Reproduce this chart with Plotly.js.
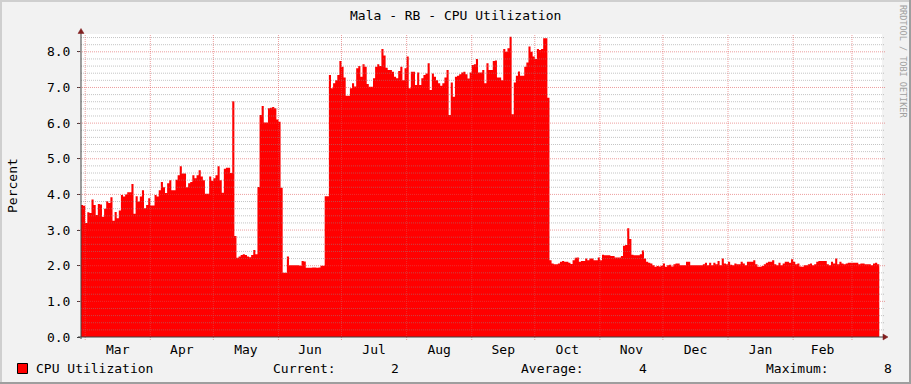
<!DOCTYPE html>
<html>
<head>
<meta charset="utf-8">
<script src="https://cdn.plot.ly/plotly-3.0.1.min.js"></script>
<style>
html,body{margin:0;padding:0;background:#f2f2f2;}
#chart{width:911px;height:384px;}
</style>
</head>
<body>
<div id="chart"></div>
<script>
// ---- data: daily CPU utilization (%) ----
var startDate = '2010-02-27';
var feb10 = [3.70, 3.68];
var mar10 = [3.20, 3.50, 3.48, 3.86, 3.70, 3.42, 3.73, 3.72, 3.37, 3.60, 3.81, 3.76, 3.92, 3.26, 3.51, 3.33, 3.55, 3.98, 3.94, 4.00, 4.06, 4.06, 4.29, 3.46, 3.95, 3.80, 3.94, 4.12, 3.61, 3.70, 3.89];
var apr10 = [3.69, 3.69, 3.98, 3.94, 4.12, 4.35, 4.20, 4.04, 4.31, 4.40, 4.12, 4.12, 4.41, 4.54, 4.79, 4.59, 4.59, 4.20, 4.31, 4.35, 4.54, 4.45, 4.54, 4.68, 4.50, 4.40, 4.02, 4.02, 4.50, 4.38];
var may10 = [4.45, 4.54, 4.79, 4.40, 4.05, 4.72, 4.75, 4.75, 4.60, 6.61, 2.83, 2.22, 2.26, 2.30, 2.32, 2.30, 2.26, 2.24, 2.30, 2.44, 2.32, 4.21, 6.23, 6.48, 6.02, 6.02, 6.42, 6.43, 6.45, 6.42, 6.10];
var jun10 = [6.04, 4.19, 1.80, 1.80, 2.26, 2.01, 2.01, 2.01, 2.01, 2.01, 2.00, 2.13, 2.12, 1.94, 1.94, 1.94, 1.95, 1.95, 1.94, 1.95, 2.00, 2.00, 3.95, 3.95, 7.35, 6.98, 7.12, 7.20, 7.35, 7.74];
var jul10 = [7.58, 7.28, 6.77, 6.77, 6.98, 7.12, 7.03, 7.54, 7.60, 7.30, 7.65, 7.58, 7.10, 7.02, 7.02, 7.26, 7.58, 7.65, 7.60, 8.08, 7.90, 7.55, 7.49, 7.49, 7.44, 7.30, 7.26, 7.46, 7.58, 7.20, 7.54];
var aug10 = [7.87, 6.98, 7.44, 7.44, 7.07, 7.42, 7.07, 7.26, 7.35, 7.39, 7.68, 6.93, 7.39, 7.30, 7.20, 7.12, 7.05, 7.12, 7.28, 7.49, 6.23, 7.14, 6.74, 7.30, 7.33, 7.37, 7.42, 7.44, 7.37, 7.25, 7.42];
var sep10 = [7.63, 7.65, 7.80, 7.42, 7.42, 7.49, 7.12, 7.68, 7.49, 7.49, 7.74, 7.76, 7.28, 7.28, 7.20, 8.08, 8.00, 8.10, 8.42, 6.25, 7.14, 7.33, 7.45, 7.33, 7.33, 7.58, 7.70, 8.15, 8.00, 7.87];
var oct10 = [7.80, 8.08, 8.05, 8.08, 8.38, 8.38, 6.71, 2.15, 2.06, 2.04, 2.04, 2.06, 2.11, 2.13, 2.11, 2.11, 2.08, 2.05, 2.15, 2.22, 2.23, 2.11, 2.13, 2.13, 2.20, 2.15, 2.20, 2.20, 2.15, 2.15, 2.23];
var nov10 = [2.15, 2.31, 2.29, 2.29, 2.29, 2.27, 2.27, 2.23, 2.23, 2.23, 2.27, 2.56, 2.58, 3.05, 2.75, 2.31, 2.29, 2.29, 2.29, 2.32, 2.43, 2.20, 2.11, 2.08, 2.06, 2.01, 1.97, 1.99, 1.98, 2.00];
var dec10 = [2.06, 1.97, 2.01, 2.03, 1.98, 2.04, 2.06, 2.06, 2.01, 2.01, 2.01, 2.11, 2.11, 2.01, 2.01, 2.01, 2.01, 2.01, 2.01, 2.04, 2.08, 2.01, 2.08, 2.01, 2.08, 2.04, 2.13, 2.01, 2.20, 2.06, 2.04];
var jan11 = [2.11, 2.03, 2.01, 2.06, 2.04, 2.04, 2.11, 2.06, 2.01, 2.11, 2.11, 2.11, 2.15, 2.04, 1.97, 1.97, 1.99, 2.04, 2.08, 2.11, 2.11, 2.15, 2.04, 2.01, 2.08, 2.01, 2.06, 2.11, 2.11, 2.08, 2.18];
var feb11 = [2.11, 2.04, 2.06, 1.98, 1.97, 2.01, 2.01, 2.04, 2.06, 2.01, 2.04, 2.11, 2.13, 2.13, 2.13, 2.13, 2.04, 2.01, 2.11, 2.06, 2.20, 2.04, 2.11, 2.06, 2.04, 2.06, 2.08, 2.08];
var mar11 = [2.08, 2.08, 2.08, 2.04, 2.06, 2.06, 2.04, 2.04, 2.04, 2.01, 2.06, 2.08, 2.04];

var monthStarts = ['2010-03-01','2010-04-01','2010-05-01','2010-06-01','2010-07-01','2010-08-01','2010-09-01','2010-10-01','2010-11-01','2010-12-01','2011-01-01','2011-02-01','2011-03-01'];
var monthLabels = ['Mar','Apr','May','Jun','Jul','Aug','Sep','Oct','Nov','Dec','Jan','Feb'];
var seriesName = 'CPU Utilization';
var legendStats = [['Current:', '2'], ['Average:', '4'], ['Maximum:', '8']];
var titleText = 'Mala - RB - CPU Utilization';
var yTitle = 'Percent';
var watermark = 'RRDTOOL / TOBI OETIKER';

// ---- build series ----
var values = [].concat(feb10, mar10, apr10, may10, jun10, jul10, aug10, sep10, oct10, nov10, dec10, jan11, feb11, mar11);
var DAY = 86400000;
var t0 = Date.parse(startDate + 'T00:00:00Z');
function fmt(ms){ return new Date(ms).toISOString().replace('T',' ').slice(0,19); }
var xs = [], ys = [];
for (var i = 0; i < values.length; i++) { xs.push(fmt(t0 + i*DAY)); ys.push(values[i]); }
// close the last step
xs.push(fmt(t0 + values.length*DAY)); ys.push(values[values.length-1]);

// ---- geometry helpers (pixel -> paper) ----
var L = 81, R = 29, T = 34, B = 47, W = 911, H = 384;
var PW = W - L - R, PH = H - T - B;
function PX(px){ return (px - L) / PW; }
function PY(py){ return (H - B - py) / PH; }

var font = 'DejaVu Sans Mono, monospace';
var shapes = [];
// horizontal grid (drawn over the area, rrdtool style)
for (var k = 1; k <= 42; k++) {
  var v = k * 0.2;
  var major = (k % 5 === 0);
  shapes.push({type:'line', layer:'above', xref:'paper', yref:'y',
    x0: major ? PX(78) : 0, x1: major ? PX(885) : PX(884), y0: v, y1: v,
    line:{color: major ? 'rgba(222,79,79,0.55)' : 'rgba(140,140,140,0.5)', width:1, dash:'1px,1px'}});
}
// vertical month grid
monthStarts.forEach(function(d){
  shapes.push({type:'line', layer:'above', xref:'x', yref:'paper',
    x0: d, x1: d, y0: PY(340), y1: 1,
    line:{color:'rgba(222,79,79,0.55)', width:1, dash:'1px,1px'}});
});
// axes
shapes.push({type:'line', layer:'above', xref:'paper', yref:'paper', x0:0, x1:0, y0:PY(339), y1:PY(31), line:{color:'#404040', width:1}});
shapes.push({type:'line', layer:'above', xref:'paper', yref:'paper', x0:PX(78), x1:PX(884), y0:0, y1:0, line:{color:'#404040', width:1}});
// arrows
shapes.push({type:'path', layer:'above', xref:'paper', yref:'paper',
  path:'M '+PX(78)+' '+PY(33.5)+' L '+PX(84)+' '+PY(33.5)+' L '+PX(81)+' '+PY(28.5)+' Z',
  fillcolor:'#801f1f', line:{color:'#801f1f', width:0.5}});
shapes.push({type:'path', layer:'above', xref:'paper', yref:'paper',
  path:'M '+PX(883)+' '+PY(334)+' L '+PX(883)+' '+PY(340)+' L '+PX(888)+' '+PY(337)+' Z',
  fillcolor:'#801f1f', line:{color:'#801f1f', width:0.5}});
// frame shading
shapes.push({type:'rect', layer:'below', xref:'paper', yref:'paper', x0:PX(0), x1:PX(911), y0:PY(0), y1:PY(2), fillcolor:'#cfcfcf', line:{width:0}});
shapes.push({type:'rect', layer:'below', xref:'paper', yref:'paper', x0:PX(0), x1:PX(2), y0:PY(0), y1:PY(384), fillcolor:'#cfcfcf', line:{width:0}});
shapes.push({type:'rect', layer:'below', xref:'paper', yref:'paper', x0:PX(909), x1:PX(911), y0:PY(0), y1:PY(384), fillcolor:'#9e9e9e', line:{width:0}});
shapes.push({type:'rect', layer:'below', xref:'paper', yref:'paper', x0:PX(0), x1:PX(911), y0:PY(382), y1:PY(384), fillcolor:'#9e9e9e', line:{width:0}});
// legend swatch
shapes.push({type:'rect', layer:'above', xref:'paper', yref:'paper', x0:PX(17.5), x1:PX(27.5), y0:PY(373.5), y1:PY(363.5), fillcolor:'#ff0000', line:{color:'#000000', width:1}});

// x tick positions: middle of each month
var tickvals = [];
for (var m = 0; m < monthLabels.length; m++) {
  var a = Date.parse(monthStarts[m]+'T00:00:00Z'), b = Date.parse(monthStarts[m+1]+'T00:00:00Z');
  tickvals.push(fmt((a+b)/2));
}

function ann(text, px, py, opts){
  var o = {text:text, x:PX(px), y:PY(py), xref:'paper', yref:'paper', showarrow:false,
    xanchor:'left', yanchor:'middle', font:{family:font, size:13, color:'#000'}, borderpad:0};
  for (var k in opts) o[k] = opts[k];
  return o;
}
var annotations = [
  ann(titleText, 455.5, 15, {xanchor:'center'}),
  ann(yTitle, 12, 186, {xanchor:'center', textangle:-90}),
  ann(watermark, 903, 61, {xanchor:'center', textangle:90, font:{family:font, size:8.5, color:'#a0a0a0'}}),
  ann(seriesName, 34.5, 368.5),
  ann(legendStats[0][0], 272, 368.5),
  ann(legendStats[0][1], 400, 368.5, {xanchor:'right'}),
  ann(legendStats[1][0], 519.5, 368.5),
  ann(legendStats[1][1], 648, 368.5, {xanchor:'right'}),
  ann(legendStats[2][0], 765, 368.5),
  ann(legendStats[2][1], 893, 368.5, {xanchor:'right'})
];

var trace = {
  type:'scatter', mode:'lines', x:xs, y:ys, name:seriesName,
  line:{shape:'hv', width:0, color:'#ff0000'}, fill:'tozeroy', fillcolor:'#ff0000',
  hoverinfo:'skip', showlegend:false
};

var layout = {
  width:W, height:H,
  margin:{l:L, r:R, t:T, b:B, pad:0},
  paper_bgcolor:'#f2f2f2', plot_bgcolor:'#ffffff',
  showlegend:false,
  xaxis:{type:'date', range:[startDate, '2011-03-15 07:00:00'], showgrid:false, zeroline:false,
    showline:false, ticks:'', tickvals:tickvals, ticktext:monthLabels,
    tickfont:{family:font, size:13, color:'#000'}, ticklabelstandoff:3, fixedrange:true},
  yaxis:{range:[0, 8.5], showgrid:false, zeroline:false, showline:false,
    tickvals:[0,1,2,3,4,5,6,7,8], ticktext:['0.0','1.0','2.0','3.0','4.0','5.0','6.0','7.0','8.0'],
    ticks:'outside', ticklen:3, tickcolor:'#404040', tickwidth:1,
    tickfont:{family:font, size:13, color:'#000'}, ticklabelstandoff:4, fixedrange:true},
  shapes:shapes,
  annotations:annotations
};

Plotly.newPlot('chart', [trace], layout, {staticPlot:true, displayModeBar:false});
</script>
</body>
</html>
